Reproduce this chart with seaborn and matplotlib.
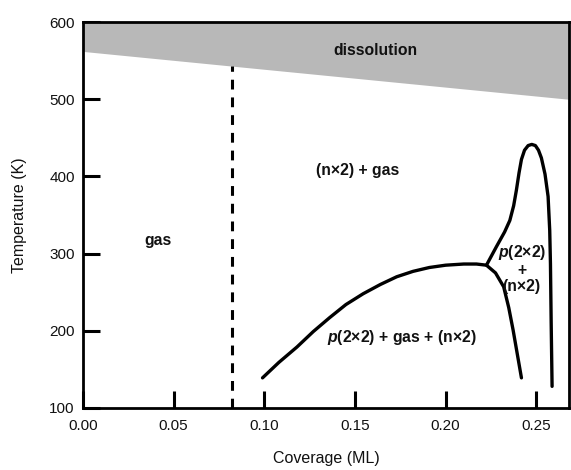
import matplotlib
matplotlib.use("Agg")
import matplotlib.pyplot as plt
import seaborn as sns
import numpy as np
import pandas as pd

sns.set_theme(style="white")
plt.rcParams['font.family'] = ['Liberation Sans', 'DejaVu Sans']
plt.rcParams['mathtext.fontset'] = 'custom'
plt.rcParams['mathtext.it'] = 'Liberation Sans:italic:bold'
plt.rcParams['mathtext.rm'] = 'Liberation Sans:bold'

# data
diss_x = [0.0, 0.268]
diss_low = [562, 500]
diss_top = [600, 600]

boundary_x = 0.082
boundary_T = [100, 543]

curve1_x = [0.099, 0.108, 0.118, 0.127, 0.136, 0.145, 0.1545, 0.164, 0.173, 0.182, 0.191, 0.200, 0.210, 0.217, 0.2225, 0.2275, 0.232, 0.2348, 0.2372, 0.2395, 0.2418]
curve1_T = [139, 159, 179, 199, 217, 234, 248, 260, 270, 277, 282, 285, 286.5, 286.5, 285, 275, 257, 230, 201, 170, 139]

curve2_x = [0.2225, 0.228, 0.2325, 0.2354, 0.2375, 0.239, 0.2405, 0.2418, 0.2435, 0.2455, 0.2475, 0.2495, 0.2512, 0.2528, 0.2548, 0.2565, 0.2574, 0.2578, 0.2582, 0.2587]
curve2_T = [285, 309, 328, 343, 362, 382, 405, 422, 434, 440, 441.5, 440, 434, 424, 403, 374, 330, 287, 210, 128]

labels = ["dissolution", "(n\u00d72) + gas", "gas", "$p$(2\u00d72)\n+\n(n\u00d72)", "$p$(2\u00d72) + gas + (n\u00d72)"]
label_x = [0.161, 0.1516, 0.0413, 0.2420, 0.1756]
label_T = [563.7, 408, 317.6, 281, 190.7]

xticks = [0.00, 0.05, 0.10, 0.15, 0.20, 0.25]
yticks = [100, 200, 300, 400, 500, 600]

fig = plt.figure(figsize=(5.71, 4.70), dpi=100)
ax = fig.add_axes([0.1454, 0.132, 0.851, 0.821])

ax.fill_between(diss_x, diss_low, diss_top, color="#b8b8b8", linewidth=0, zorder=1)
ax.plot([boundary_x, boundary_x], boundary_T, color="black", lw=2.2, ls=(0, (3.2, 2.6)), zorder=2)

df1 = pd.DataFrame({"x": curve1_x, "T": curve1_T})
df2 = pd.DataFrame({"x": curve2_x, "T": curve2_T})
sns.lineplot(data=df1, x="x", y="T", sort=False, color="black", lw=2.4, ax=ax, zorder=3)
sns.lineplot(data=df2, x="x", y="T", sort=False, color="black", lw=2.4, ax=ax, zorder=3)

for t, x, y in zip(labels, label_x, label_T):
    ax.text(x, y, t, ha="center", va="center", fontsize=11.3, fontweight="bold",
            color="#111111", linespacing=1.1, zorder=4)

ax.set_xlim(0, 0.268)
ax.set_ylim(100, 600)
ax.set_xticks(xticks)
ax.set_xticklabels([f"{v:.2f}" for v in xticks])
ax.set_yticks(yticks)
ax.set_yticklabels([str(v) for v in yticks])
ax.tick_params(bottom=True, left=True, top=False, right=False)
ax.tick_params(direction="in", length=12, width=2.2, color="black", labelsize=11,
               labelcolor="#111111", pad=8)
ax.tick_params(axis="y", pad=6)
for s in ax.spines.values():
    s.set_color("black")
    s.set_linewidth(2)
ax.set_xlabel("Coverage (ML)", fontsize=11.5, labelpad=13, color="#111111")
ax.set_ylabel("Temperature (K)", fontsize=11.5, labelpad=16, color="#111111")

fig.savefig("out.png", dpi=100)
